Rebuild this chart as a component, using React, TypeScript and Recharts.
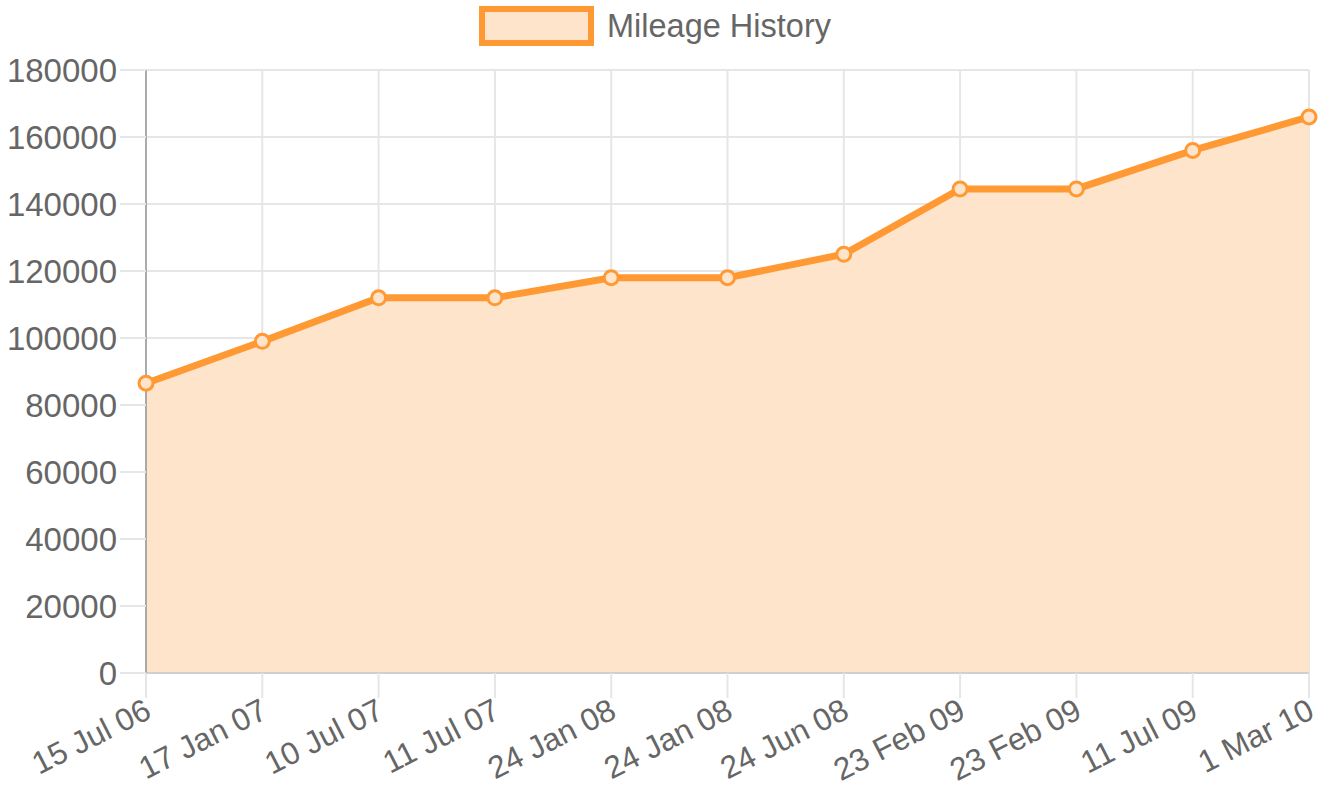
import React from "react";
import { AreaChart, Area, XAxis, YAxis, CartesianGrid } from "recharts";

const dates = [
  "15 Jul 06",
  "17 Jan 07",
  "10 Jul 07",
  "11 Jul 07",
  "24 Jan 08",
  "24 Jan 08",
  "24 Jun 08",
  "23 Feb 09",
  "23 Feb 09",
  "11 Jul 09",
  "1 Mar 10",
];
const mileage = [86500, 99000, 112000, 112000, 118000, 118000, 125000, 144500, 144500, 156000, 166000];
const yTicks = [0, 20000, 40000, 60000, 80000, 100000, 120000, 140000, 160000, 180000];

const data = dates.map((d, i) => ({ date: d, mileage: mileage[i] }));

const ORANGE = "#ff9933";
const FILL = "#fee4cb";
const TEXT = "#666666";
const GRID = "#e6e6e6";
const FONT = "'Liberation Sans', Arial, sans-serif";

// rotated date label, its top-right corner sits at the tick
function DateTick(props: any) {
  const { x, y, payload } = props;
  return (
    <text
      transform={`translate(${x + 7}, ${y + 17}) rotate(-27)`}
      textAnchor="end"
      fill={TEXT}
      fontSize={31.5}
      fontFamily={FONT}
    >
      {payload.value}
    </text>
  );
}

export default function App() {
  return (
    <div style={{ position: "absolute", left: 0, top: 0, width: 1324, height: 787, background: "#fff", fontFamily: FONT }}>
      {/* Legend */}
      <div style={{ position: "absolute", left: 479, top: 6, display: "flex", alignItems: "center" }}>
        <div style={{ width: 103, height: 28, background: FILL, border: `6px solid ${ORANGE}` }} />
        <span style={{ marginLeft: 13, fontSize: 32.5, color: TEXT, lineHeight: "40px" }}>Mileage History</span>
      </div>

      <AreaChart
        width={1324}
        height={787}
        data={data}
        margin={{ top: 70, right: 15, bottom: 0, left: 0 }}
      >
        <CartesianGrid stroke={GRID} strokeWidth={2} />
        <XAxis
          dataKey="date"
          allowDuplicatedCategory
          interval={0}
          height={114}
          tickSize={25}
          tickMargin={2}
          tickLine={{ stroke: GRID, strokeWidth: 2 }}
          axisLine={{ stroke: "#cfcfcf", strokeWidth: 2 }}
          tick={<DateTick />}
        />
        <YAxis
          width={146}
          domain={[0, 180000]}
          ticks={yTicks}
          interval={0}
          tickSize={26}
          tickMargin={3}
          tickLine={{ stroke: GRID, strokeWidth: 2 }}
          axisLine={{ stroke: "#aaaaaa", strokeWidth: 2 }}
          tick={{ fill: TEXT, fontSize: 33, fontFamily: FONT }}
        />
        <Area
          type="linear"
          dataKey="mileage"
          stroke={ORANGE}
          strokeWidth={7}
          fill={FILL}
          fillOpacity={1}
          dot={{ r: 7, fill: FILL, stroke: ORANGE, strokeWidth: 3 }}
          activeDot={false}
          isAnimationActive={false}
        />
      </AreaChart>
    </div>
  );
}
